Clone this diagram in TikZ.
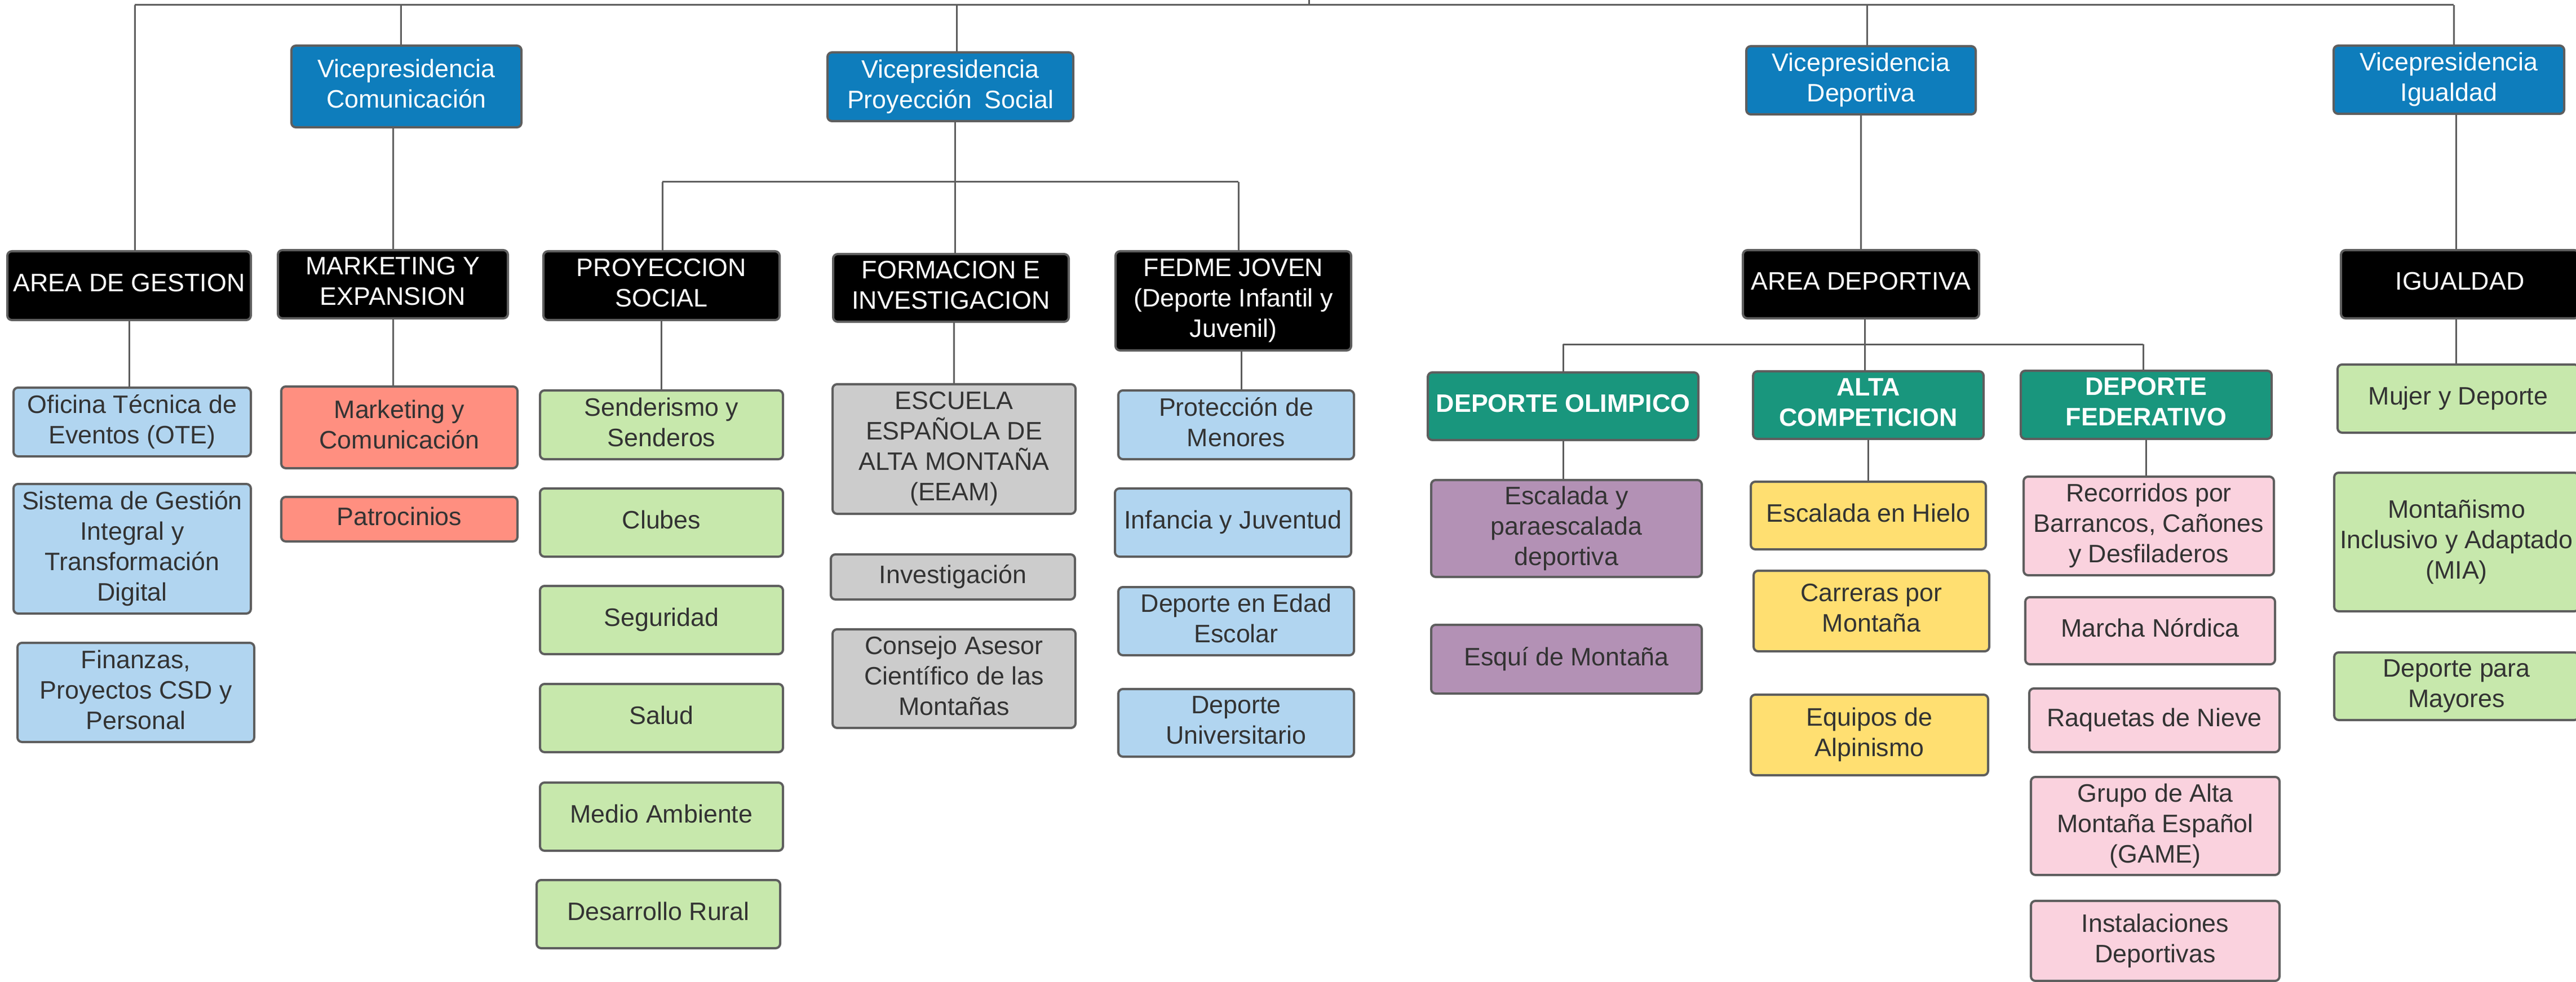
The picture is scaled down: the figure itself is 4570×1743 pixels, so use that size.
\documentclass[tikz,border=0pt]{standalone}
\usepackage{fontspec}
\setmainfont{Liberation Sans}
\definecolor{bordc}{HTML}{5E5E5E}
\definecolor{vpblue}{HTML}{0E7DBC}
\definecolor{lblue}{HTML}{B1D5F0}
\definecolor{salmc}{HTML}{FF8F80}
\definecolor{lgreen}{HTML}{C7E8AC}
\definecolor{greyc}{HTML}{CCCCCC}
\definecolor{tealc}{HTML}{19967D}
\definecolor{purpc}{HTML}{B391B5}
\definecolor{yelc}{HTML}{FFDF71}
\definecolor{pinkc}{HTML}{FAD2DE}
\definecolor{txtc}{HTML}{333333}
\newcommand\mybox[7]{%
  \node[#6, minimum width={(#4-#2)*0.25pt}, minimum height={(#5-#3)*0.25pt}] (#1) at ({(#2+#4)/2},{(#3+#5)/2}) {#7};}
\tikzset{
  base/.style={draw=bordc, line width=1pt, rounded corners=2pt, inner sep=0pt, align=center, text depth=2.6pt, font=\fontsize{11.2}{13.5}\selectfont},
  vpbox/.style={base, fill=vpblue, text=white},
  blkbox/.style={base, fill=black, text=white},
  tealbox/.style={base, fill=tealc, text=white, font=\fontsize{11.2}{13.5}\selectfont\bfseries},
  lbbox/.style={base, fill=lblue, text=txtc},
  salbox/.style={base, fill=salmc, text=txtc},
  lgbox/.style={base, fill=lgreen, text=txtc},
  grbox/.style={base, fill=greyc, text=txtc},
  pubox/.style={base, fill=purpc, text=txtc},
  yebox/.style={base, fill=yelc, text=txtc},
  pibox/.style={base, fill=pinkc, text=txtc},
  conn/.style={draw=bordc, line width=0.75pt}
}
\begin{document}
\begin{tikzpicture}[x=0.25pt,y=-0.25pt]
\useasboundingbox (0,0) rectangle (4570,1743);
\fill[white] (0,0) rectangle (4570,1743);
% connector coordinates
\coordinate (t0) at (239,9);
\coordinate (t1) at (711,9);
\coordinate (t2) at (1697,9);
\coordinate (t3) at (2322,9);
\coordinate (t4) at (3312,9);
\coordinate (t5) at (4353,9);
\coordinate (top) at (2322,0);
\coordinate (p0) at (1175,323);
\coordinate (p1) at (1694,323);
\coordinate (p2) at (2197,323);
\coordinate (d0) at (2773,611);
\coordinate (d1) at (3308,611);
\coordinate (d2) at (3802,611);
\coordinate (gx) at (4357,300);
\coordinate (fx) at (2202,300);
% vice presidencies
\mybox{vcom}{517}{81}{925}{226}{vpbox}{Vicepresidencia\\Comunicación}
\mybox{vps}{1468}{93}{1904}{215}{vpbox}{Vicepresidencia\\Proyección\enspace Social}
\mybox{vdep}{3098}{82}{3505}{203}{vpbox}{Vicepresidencia\\Deportiva}
\mybox{vig}{4140}{81}{4549}{202}{vpbox}{Vicepresidencia\\Igualdad}
% areas
\mybox{gest}{13}{446}{445}{568}{blkbox}{AREA DE GESTION}
\mybox{mkt}{493}{444}{901}{565}{blkbox}{MARKETING Y\\EXPANSION}
\mybox{ps}{964}{446}{1383}{568}{blkbox}{PROYECCION\\SOCIAL}
\mybox{form}{1478}{451}{1896}{571}{blkbox}{FORMACION E\\INVESTIGACION}
\mybox{fedme}{1979}{446}{2397}{622}{blkbox}{FEDME JOVEN\\(Deporte Infantil y\\Juvenil)}
\mybox{adep}{3092}{444}{3511}{565}{blkbox}{AREA DEPORTIVA}
\mybox{igu}{4153}{444}{4575}{565}{blkbox}{IGUALDAD}
\mybox{olim}{2533}{661}{3013}{781}{tealbox}{DEPORTE OLIMPICO}
\mybox{alta}{3110}{659}{3519}{779}{tealbox}{ALTA\\COMPETICION}
\mybox{fede}{3585}{658}{4030}{779}{tealbox}{DEPORTE\\FEDERATIVO}
% leaves
\mybox{ofi}{24}{688}{445}{810}{lbbox}{Oficina Técnica de\\Eventos (OTE)}
\mybox{sis}{24}{859}{445}{1089}{lbbox}{Sistema de Gestión\\Integral y\\Transformación\\Digital}
\mybox{fin}{31}{1141}{451}{1317}{lbbox}{Finanzas,\\Proyectos CSD y\\Personal}
\mybox{mkc}{499}{686}{918}{831}{salbox}{Marketing y\\Comunicación}
\mybox{pat}{499}{882}{918}{961}{salbox}{Patrocinios}
\mybox{send}{958}{693}{1389}{815}{lgbox}{Senderismo y\\Senderos}
\mybox{club}{958}{867}{1389}{988}{lgbox}{Clubes}
\mybox{seg}{958}{1040}{1389}{1161}{lgbox}{Seguridad}
\mybox{sal}{958}{1214}{1389}{1335}{lgbox}{Salud}
\mybox{med}{958}{1389}{1389}{1510}{lgbox}{Medio Ambiente}
\mybox{des}{952}{1562}{1384}{1683}{lgbox}{Desarrollo Rural}
\mybox{esc}{1477}{682}{1908}{912}{grbox}{ESCUELA\\ESPAÑOLA DE\\ALTA MONTAÑA\\(EEAM)}
\mybox{inv}{1474}{984}{1907}{1064}{grbox}{Investigación}
\mybox{con}{1477}{1117}{1908}{1292}{grbox}{Consejo Asesor\\Científico de las\\Montañas}
\mybox{pro}{1984}{693}{2402}{815}{lbbox}{Protección de\\Menores}
\mybox{inf}{1978}{867}{2397}{988}{lbbox}{Infancia y Juventud}
\mybox{ede}{1984}{1042}{2402}{1163}{lbbox}{Deporte en Edad\\Escolar}
\mybox{uni}{1984}{1223}{2402}{1343}{lbbox}{Deporte\\Universitario}
\mybox{epar}{2539}{852}{3019}{1024}{pubox}{Escalada y\\paraescalada\\deportiva}
\mybox{esq}{2539}{1109}{3019}{1231}{pubox}{Esquí de Montaña}
\mybox{hie}{3106}{855}{3523}{975}{yebox}{Escalada en Hielo}
\mybox{car}{3111}{1013}{3529}{1156}{yebox}{Carreras por\\Montaña}
\mybox{equ}{3106}{1233}{3527}{1376}{yebox}{Equipos de\\Alpinismo}
\mybox{rec}{3590}{846}{4034}{1021}{pibox}{Recorridos por\\Barrancos, Cañones\\y Desfiladeros}
\mybox{mar}{3593}{1060}{4036}{1179}{pibox}{Marcha Nórdica}
\mybox{raq}{3600}{1222}{4044}{1335}{pibox}{Raquetas de Nieve}
\mybox{game}{3603}{1379}{4044}{1553}{pibox}{Grupo de Alta\\Montaña Español\\(GAME)}
\mybox{ins}{3603}{1599}{4044}{1741}{pibox}{Instalaciones\\Deportivas}
\mybox{muj}{4147}{647}{4575}{768}{lgbox}{Mujer y Deporte}
\mybox{mia}{4141}{839}{4575}{1085}{lgbox}{Montañismo\\Inclusivo y Adaptado\\(MIA)}
\mybox{may}{4141}{1158}{4575}{1278}{lgbox}{Deporte para\\Mayores}
% connectors
\draw[conn] (t0) -- (t5);
\draw[conn] (t3) -- (top);
\draw[conn] (t0) -- (t0 |- gest.north);
\draw[conn] (t1) -- (t1 |- vcom.north);
\draw[conn] (t2) -- (t2 |- vps.north);
\draw[conn] (t4) -- (t4 |- vdep.north);
\draw[conn] (t5) -- (t5 |- vig.north);
\draw[conn] (mkt.north) -- (mkt.north |- vcom.south);
\draw[conn] (gest.south) -- (gest.south |- ofi.north);
\draw[conn] (mkt.south) -- (mkt.south |- mkc.north);
\draw[conn] (p1 |- vps.south) -- (p1);
\draw[conn] (p0) -- (p2);
\draw[conn] (p0) -- (p0 |- ps.north);
\draw[conn] (p1) -- (p1 |- form.north);
\draw[conn] (p2) -- (p2 |- fedme.north);
\draw[conn] (ps.south) -- (ps.south |- send.north);
\draw[conn] (esc.north) -- (esc.north |- form.south);
\draw[conn] (fx |- fedme.south) -- (fx |- pro.north);
\draw[conn] (vdep.south) -- (adep.north);
\draw[conn] (d1 |- adep.south) -- (d1);
\draw[conn] (d0) -- (d2);
\draw[conn] (d0) -- (d0 |- olim.north);
\draw[conn] (d1) -- (d1 |- alta.north);
\draw[conn] (d2) -- (d2 |- fede.north);
\draw[conn] (olim.south) -- (olim.south |- epar.north);
\draw[conn] (alta.south) -- (alta.south |- hie.north);
\draw[conn] (fede.south) -- (fede.south |- rec.north);
\draw[conn] (gx |- vig.south) -- (gx |- igu.north);
\draw[conn] (gx |- igu.south) -- (gx |- muj.north);
\end{tikzpicture}
\end{document}
